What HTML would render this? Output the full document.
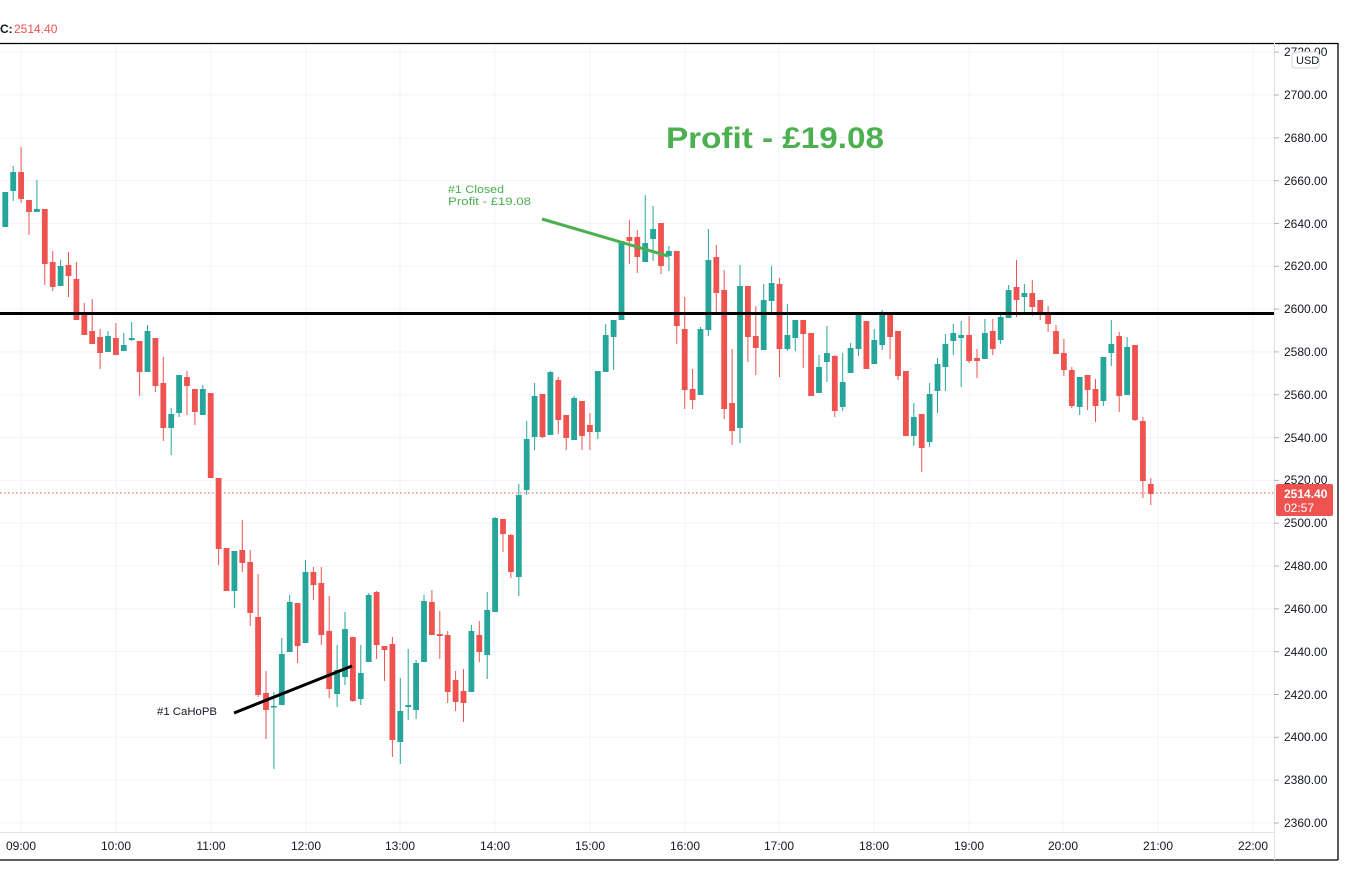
<!DOCTYPE html>
<html><head><meta charset="utf-8"><style>
html,body{margin:0;padding:0;background:#fff;width:1345px;height:896px;overflow:hidden}
svg{display:block;font-family:"Liberation Sans",sans-serif}
</style></head><body>
<svg id="s" width="1345" height="896" viewBox="0 0 1345 896">
<g id="grid" stroke="#f0f3fa" stroke-width="1"></g>
<g id="candles"></g>
<line x1="0" y1="313.5" x2="1274" y2="313.5" stroke="#000" stroke-width="3"/>
<line x1="0" y1="493" x2="1274" y2="493" stroke="#ef5350" stroke-width="1" stroke-dasharray="1.5,2.5"/>
<line x1="542" y1="219" x2="668" y2="256" stroke="#4caf50" stroke-width="3"/>
<line x1="234" y1="713" x2="352" y2="666" stroke="#000" stroke-width="3"/>
<text x="448" y="193" font-size="11" fill="#4caf50" textLength="56" lengthAdjust="spacingAndGlyphs">#1 Closed</text>
<text x="448" y="205" font-size="11" fill="#4caf50" textLength="83" lengthAdjust="spacingAndGlyphs">Profit - £19.08</text>
<text x="666" y="148" font-size="30" font-weight="bold" fill="#4caf50" textLength="218" lengthAdjust="spacingAndGlyphs">Profit - £19.08</text>
<text x="157" y="715" font-size="11" fill="#131722" textLength="60" lengthAdjust="spacingAndGlyphs">#1 CaHoPB</text>
<text x="0" y="33" font-size="12" fill="#131722" font-weight="bold">C:</text>
<text x="14" y="33" font-size="12" fill="#ef5350">2514.40</text>
<line x1="0" y1="43.5" x2="1338" y2="43.5" stroke="#000" stroke-width="1.3"/>
<line x1="1338" y1="43" x2="1338" y2="860" stroke="#000" stroke-width="1.3"/>
<line x1="0" y1="860" x2="1338" y2="860" stroke="#000" stroke-width="1.3"/>
<line x1="1274.5" y1="43" x2="1274.5" y2="860" stroke="#e0e3eb" stroke-width="1"/>
<line x1="0" y1="832.5" x2="1274" y2="832.5" stroke="#e0e3eb" stroke-width="1"/>
<g id="axis" font-size="12" fill="#131722"></g>
<g font-size="12" fill="#131722">
<text x="1284" y="56">2720.00</text>
<text x="1284" y="99">2700.00</text><text x="1284" y="142">2680.00</text><text x="1284" y="185">2660.00</text><text x="1284" y="228">2640.00</text><text x="1284" y="270">2620.00</text><text x="1284" y="313">2600.00</text><text x="1284" y="356">2580.00</text><text x="1284" y="399">2560.00</text><text x="1284" y="442">2540.00</text><text x="1284" y="484">2520.00</text><text x="1284" y="527">2500.00</text><text x="1284" y="570">2480.00</text><text x="1284" y="613">2460.00</text><text x="1284" y="656">2440.00</text><text x="1284" y="699">2420.00</text><text x="1284" y="741">2400.00</text><text x="1284" y="784">2380.00</text><text x="1284" y="827">2360.00</text>
</g>
<rect x="1276" y="484" width="57" height="32" rx="2" fill="#ef5350"/>
<text x="1284" y="498" font-size="12" font-weight="bold" fill="#fff">2514.40</text>
<text x="1284" y="512" font-size="12" fill="#fff">02:57</text>
<rect x="1292" y="52" width="27" height="16" rx="3" fill="#fff" stroke="#d1d4dc"/>
<text x="1296" y="64" font-size="11" fill="#131722">USD</text>
<g font-size="12" fill="#131722" text-anchor="middle">
<text x="21" y="850">09:00</text><text x="116" y="850">10:00</text><text x="211" y="850">11:00</text><text x="306" y="850">12:00</text><text x="400" y="850">13:00</text><text x="495" y="850">14:00</text><text x="590" y="850">15:00</text><text x="685" y="850">16:00</text><text x="779" y="850">17:00</text><text x="874" y="850">18:00</text><text x="969" y="850">19:00</text><text x="1063" y="850">20:00</text><text x="1158" y="850">21:00</text><text x="1253" y="850">22:00</text>
</g>
</svg>
<script>
var NS="http://www.w3.org/2000/svg";
function el(p,t,a){var e=document.createElementNS(NS,t);for(var k in a)e.setAttribute(k,a[k]);p.appendChild(e);return e;}
var g=document.getElementById('grid');
for(var p=2720;p>=2360;p-=20){var y=95+(2700-p)*2.141;el(g,'line',{x1:0,x2:1274,y1:y,y2:y});
 el(document.getElementById('axis'),'line',{x1:1274,x2:1279,y1:y,y2:y,stroke:'#b2b5be'});}
[21,116,211,306,400,495,590,685,779,874,969,1063,1158,1253].forEach(function(x){el(g,'line',{x1:x,x2:x,y1:44,y2:832});});
var C=[
[192,227,192,227,1],[172,191,166,201,1],[172,199,147,203,0],[200,212,200,235,0],[209,212,180,212,1],[209,264,209,285,0],[262,287,251,291,0],[266,286,260,286,1],[265,276,252,297,0],[279,320,262,320,0],
[315,335,303,335,0],[331,344,299,344,0],[337,353,329,369,0],[336,352,331,352,1],[338,355,323,355,0],[345,351,333,351,1],[338,340,322,341,1],[341,372,341,396,0],[331,372,325,372,1],[338,386,338,392,0],
[383,428,357,441,0],[414,428,408,455,1],[375,413,375,417,1],[377,386,371,415,0],[389,412,389,425,0],[389,415,385,415,1],[393,478,393,478,0],[478,549,478,565,0],[548,591,548,591,0],[551,591,551,608,1],
[550,563,520,572,0],[562,613,550,626,0],[617,695,574,697,0],[693,710,671,739,0],[706,707,692,769,1],[654,705,638,705,1],[602,652,595,652,1],[603,646,603,663,0],[572,643,560,643,1],[572,585,567,600,0],
[583,635,567,645,0],[631,689,596,698,0],[670,694,645,707,1],[629,677,612,685,1],[637,701,637,702,0],[673,699,645,705,1],[595,662,593,662,1],[592,645,591,659,0],[646,650,646,681,0],[644,740,637,757,0],
[711,742,678,764,1],[705,707,649,720,1],[663,710,660,719,1],[601,662,595,662,1],[602,635,590,635,0],[634,636,611,659,0],[635,692,631,703,0],[680,702,671,711,0],[691,703,669,722,0],[631,692,625,692,1],
[635,652,621,662,0],[610,655,592,679,1],[518,612,517,612,1],[519,534,519,552,0],[535,572,534,578,0],[495,577,484,596,1],[439,490,421,495,1],[396,437,383,450,1],[394,437,394,438,0],[372,435,371,435,1],
[380,420,377,434,0],[415,438,415,450,0],[398,440,396,440,1],[401,436,401,450,0],[425,432,413,450,0],[371,432,371,439,1],[335,372,324,372,1],[320,337,320,370,1],[241,320,241,320,1],[237,241,220,264,0],
[237,257,230,273,0],[243,262,195,262,1],[229,239,206,261,1],[223,266,223,274,0],[251,256,246,271,1],[251,326,251,344,0],[329,390,297,409,0],[389,400,369,409,0],[329,395,327,395,1],[260,330,229,336,1],
[257,293,245,312,0],[290,409,270,419,0],[403,431,349,445,0],[286,428,265,443,1],[286,337,286,362,0],[336,348,306,375,0],[300,350,284,350,1],[283,301,266,312,1],[284,349,278,377,0],[335,349,304,351,1],
[320,338,320,351,1],[320,334,320,368,0],[333,396,333,396,0],[367,393,355,393,1],[353,362,326,382,1],[356,411,355,417,0],[382,407,353,411,1],[348,373,343,373,1],[315,349,315,356,1],[321,369,321,369,0],
[340,364,329,364,1],[315,345,310,350,1],[315,337,315,359,0],[331,376,331,380,0],[371,436,371,436,0],[417,436,403,446,1],[414,448,414,472,0],[394,442,383,447,1],[364,391,358,413,1],[344,367,334,391,1],
[333,341,324,355,1],[335,338,321,387,1],[335,361,316,363,0],[358,361,349,378,0],[333,359,319,359,1],[331,349,319,355,0],[317,340,315,344,1],[290,318,285,318,1],[287,300,260,317,0],[293,297,284,312,1],
[293,307,280,316,0],[300,312,300,320,0],[314,324,306,332,0],[331,354,325,354,0],[353,370,339,376,0],[370,406,367,408,0],[377,407,377,415,1],[375,390,375,410,0],[389,406,379,422,0],[357,401,357,406,1],
[344,353,320,366,1],[336,396,332,412,0],[347,395,337,395,1],[345,420,345,421,0],[421,481,417,498,0],[484,494,478,505,0]
];
var cg=document.getElementById('candles');
C.forEach(function(c,i){var x=5.3+7.9*i,col=c[4]?'#26a69a':'#ef5350';
 el(cg,'line',{x1:x,x2:x,y1:c[2],y2:c[3],stroke:col,'stroke-width':1});
 el(cg,'rect',{x:x-2.9,y:c[0],width:5.8,height:Math.max(1.5,c[1]-c[0]),fill:col});});
</script>
</body></html>
